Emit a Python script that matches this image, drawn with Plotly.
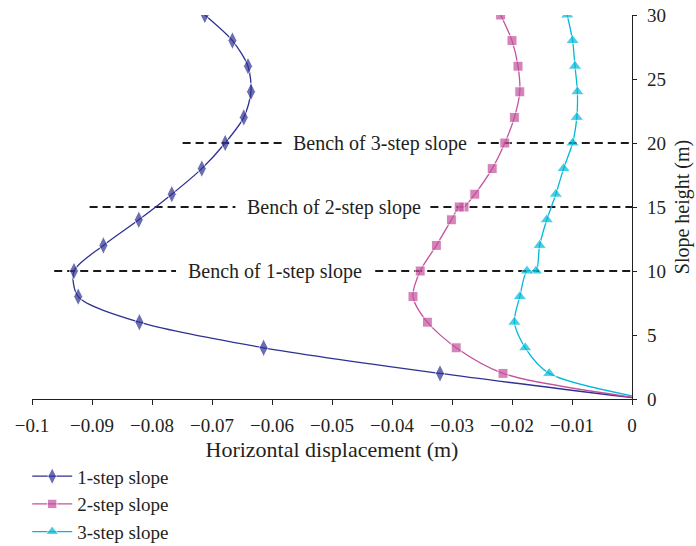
import plotly.graph_objects as go

# Slope height (m) of each monitoring point
h1 = [30, 28, 26, 24, 22, 20, 18, 16, 14, 12, 10, 8, 6, 4, 2, 0.1]
h2 = [30, 28, 26, 24, 22, 20, 18, 16, 15, 15, 14, 12, 10, 8, 6, 4, 2, 0.15]
h3 = [30, 28, 26, 24, 22, 20, 18, 16, 14, 12, 10, 10, 8, 6, 4, 2, 0.25]

# Horizontal displacement (m)
d1 = [-0.0712, -0.0666, -0.0640, -0.0635, -0.0647, -0.0678, -0.0717, -0.0767,
      -0.0822, -0.0881, -0.0930, -0.0923, -0.0821, -0.0614, -0.0320, 0.0]
d2 = [-0.0219, -0.0200, -0.0190, -0.0187, -0.0196, -0.0212, -0.0233, -0.0262,
      -0.0280, -0.0288, -0.0301, -0.0326, -0.0353, -0.0365, -0.0341, -0.0293,
      -0.0215, 0.0]
d3 = [-0.0108, -0.0099, -0.0095, -0.0091, -0.0092, -0.0099, -0.0114, -0.0127,
      -0.0142, -0.0154, -0.0160, -0.0175, -0.0187, -0.0196, -0.0178, -0.0138, 0.0]

names = ["1-step slope", "2-step slope", "3-step slope"]
colors = ["#2E3192", "#C4519D", "#00B8D9"]
symbols = ["diamond-tall", "square", "triangle-up"]
sizes = [13, 10, 12]

# Bench levels: height, label, label centre and the dashed pieces either side
bench_h = [20, 15, 10]
bench_text = ["Bench of 3-step slope", "Bench of 2-step slope", "Bench of 1-step slope"]
bench_label_x = [-0.0420, -0.0497, -0.0595]
bench_segments = [
    [(-0.0749, -0.0581), (-0.0257, 0.0)],
    [(-0.0904, -0.0661), (-0.0336, 0.0)],
    [(-0.0963, -0.0760), (-0.0428, 0.0)],
]

FONT = "Liberation Serif"
INK = "#231f20"
fig = go.Figure()

for i, (d, h) in enumerate([(d1, h1), (d2, h2), (d3, h3)]):
    msize = [sizes[i]] * (len(d) - 1) + [0]
    fig.add_trace(go.Scatter(
        x=d, y=h, name=names[i], mode="lines+markers",
        line=dict(color=colors[i], width=1.3, shape="spline", smoothing=0.8),
        marker=dict(symbol=symbols[i], size=msize, color=colors[i]),
    ))

shapes = []
for h, segs in zip(bench_h, bench_segments):
    for x0, x1 in segs:
        shapes.append(dict(type="line", xref="x", yref="y", x0=x0, x1=x1, y0=h, y1=h,
                           line=dict(color="#1a1a1a", width=1.8, dash="8px,5px"),
                           layer="below"))

annotations = []
for h, t, xc in zip(bench_h, bench_text, bench_label_x):
    annotations.append(dict(x=xc, y=h, xref="x", yref="y", text=t, showarrow=False,
                            font=dict(family=FONT, size=20, color=INK),
                            xanchor="center", yanchor="middle"))

fig.update_layout(
    width=696, height=546,
    margin=dict(l=32, r=64, t=15, b=147, autoexpand=False),
    paper_bgcolor="white", plot_bgcolor="white",
    font=dict(family=FONT, size=19, color=INK),
    shapes=shapes, annotations=annotations,
    legend=dict(x=-0.008, y=-0.152, xanchor="left", yanchor="top",
                font=dict(family=FONT, size=19, color=INK),
                itemwidth=40, bgcolor="rgba(0,0,0,0)"),
    xaxis=dict(range=[-0.1, 0], dtick=0.01, tick0=-0.1, showgrid=False, zeroline=False,
               showline=True, linecolor=INK, linewidth=1.2,
               ticks="outside", ticklen=5, tickcolor=INK, ticklabelstandoff=4,
               tickfont=dict(family=FONT, size=19, color=INK),
               title=dict(text="Horizontal displacement (m)", standoff=6,
                          font=dict(family=FONT, size=22, color=INK))),
    yaxis=dict(range=[0, 30], dtick=5, side="right", showgrid=False, zeroline=False,
               showline=True, linecolor=INK, linewidth=1.2,
               ticks="outside", ticklen=4, tickcolor=INK, ticklabelstandoff=6,
               tickfont=dict(family=FONT, size=19, color=INK),
               title=dict(text="Slope height (m)", standoff=10,
                          font=dict(family=FONT, size=20, color=INK))),
)

fig.write_html("out.html")
